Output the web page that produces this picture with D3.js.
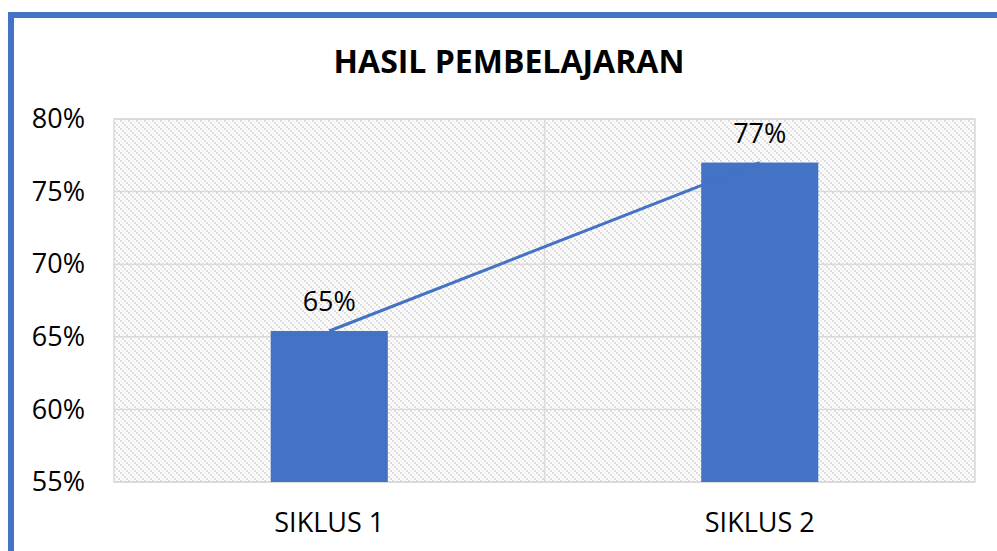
<!DOCTYPE html>
<html>
<head>
<meta charset="utf-8">
<script src="https://cdn.jsdelivr.net/npm/d3@7"></script>
<style>
  body { margin: 0; background: #fff; }
  text { font-family: "Open Sans", "Noto Sans", sans-serif; }
</style>
</head>
<body>
<div id="chart"></div>
<script>
const width = 997;
const height = 551;

// Data
const categories = ["SIKLUS 1", "SIKLUS 2"];
const barValues = [0.654, 0.77];
const lineValues = [0.654, 0.77];
const dataLabels = ["65%", "77%"];
const yTicks = [0.55, 0.6, 0.65, 0.7, 0.75, 0.8];

const blue = "#4472C4";
const margin = { top: 119, right: 22, bottom: 69, left: 114 };

const svg = d3.select("#chart")
    .append("svg")
    .attr("width", width)
    .attr("height", height);

// Hatch pattern for the plot area
const defs = svg.append("defs");
const pat = defs.append("pattern")
    .attr("id", "hatch")
    .attr("patternUnits", "userSpaceOnUse")
    .attr("width", 8)
    .attr("height", 8);
pat.append("rect").attr("width", 8).attr("height", 8).attr("fill", "#fff");
[[0, 0], [2, 2], [4, 4], [6, 6]].forEach(([px, py]) => {
    pat.append("rect")
        .attr("x", px).attr("y", py)
        .attr("width", 2).attr("height", 2)
        .attr("fill", "#dcdcdc");
});
[[4, 0], [6, 2], [0, 4], [2, 6]].forEach(([px, py]) => {
    pat.append("rect")
        .attr("x", px).attr("y", py)
        .attr("width", 2).attr("height", 2)
        .attr("fill", "#f2f2f2");
});

// Frame lines (blue border on top and left)
svg.append("rect").attr("x", 8).attr("y", 12).attr("width", width - 8).attr("height", 6).attr("fill", blue);
svg.append("rect").attr("x", 8).attr("y", 12).attr("width", 6).attr("height", height - 12).attr("fill", blue);

const x = d3.scaleBand()
    .domain(categories)
    .range([margin.left, width - margin.right])
    .paddingInner(0.728)
    .paddingOuter(0.364);

const y = d3.scaleLinear()
    .domain([0.55, 0.8])
    .range([height - margin.bottom, margin.top]);

// Plot background
svg.append("rect")
    .attr("x", margin.left)
    .attr("y", margin.top)
    .attr("width", width - margin.right - margin.left)
    .attr("height", height - margin.bottom - margin.top)
    .attr("fill", "url(#hatch)")
    .attr("stroke", "#d9d9d9")
    .attr("stroke-width", 1.5);

// Horizontal gridlines
svg.append("g")
    .selectAll("line")
    .data(yTicks)
    .enter()
    .append("line")
    .attr("x1", margin.left)
    .attr("x2", width - margin.right)
    .attr("y1", (d) => y(d))
    .attr("y2", (d) => y(d))
    .attr("stroke", "#d9d9d9")
    .attr("stroke-width", 1.5);

// Vertical category divider
const mid = (x(categories[0]) + x.bandwidth() + x(categories[1])) / 2;
svg.append("line")
    .attr("x1", mid).attr("x2", mid)
    .attr("y1", margin.top).attr("y2", height - margin.bottom)
    .attr("stroke", "#d9d9d9")
    .attr("stroke-width", 1.5);

// Y axis labels
const yAxis = d3.axisLeft(y)
    .tickValues(yTicks)
    .tickFormat(d3.format(".0%"))
    .tickSize(0)
    .tickPadding(29);
const yg = svg.append("g")
    .attr("transform", `translate(${margin.left},0)`)
    .call(yAxis);
yg.select(".domain").remove();
yg.selectAll("text")
    .attr("font-size", 27)
    .attr("fill", "#000");

// X axis labels
const xAxis = d3.axisBottom(x).tickSize(0).tickPadding(31);
const xg = svg.append("g")
    .attr("transform", `translate(0,${height - margin.bottom})`)
    .call(xAxis);
xg.select(".domain").remove();
xg.selectAll("text")
    .attr("font-size", 27)
    .attr("fill", "#000");

// Bars
svg.append("g")
    .selectAll("rect")
    .data(barValues)
    .enter()
    .append("rect")
    .attr("x", (d, i) => x(categories[i]))
    .attr("y", (d) => y(d))
    .attr("width", x.bandwidth())
    .attr("height", (d) => y(0.55) - y(d))
    .attr("fill", blue);

// Line series
const line = d3.line()
    .x((d, i) => x(categories[i]) + x.bandwidth() / 2)
    .y((d) => y(d));
svg.append("path")
    .datum(lineValues)
    .attr("d", line)
    .attr("fill", "none")
    .attr("stroke", blue)
    .attr("stroke-width", 3);

// Data labels
svg.append("g")
    .selectAll("text")
    .data(lineValues)
    .enter()
    .append("text")
    .attr("x", (d, i) => x(categories[i]) + x.bandwidth() / 2)
    .attr("y", (d) => y(d) - 20)
    .attr("text-anchor", "middle")
    .attr("font-size", 27)
    .attr("fill", "#000")
    .text((d, i) => dataLabels[i]);

// Title
svg.append("text")
    .attr("x", 509)
    .attr("y", 73)
    .attr("text-anchor", "middle")
    .attr("font-size", 32)
    .attr("font-weight", "bold")
    .attr("fill", "#000")
    .text("HASIL PEMBELAJARAN");
</script>
</body>
</html>
